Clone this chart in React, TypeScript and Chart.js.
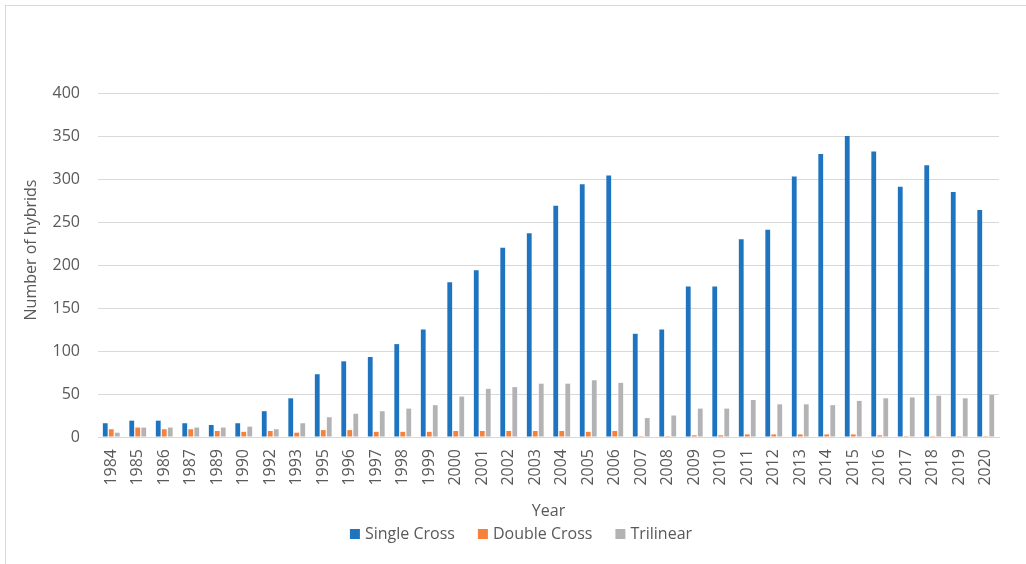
import React, { useEffect, useRef } from 'react';
import { Chart, registerables } from 'chart.js';

Chart.register(...registerables);

const years = ['1984', '1985', '1986', '1987', '1989', '1990', '1992', '1993', '1995', '1996', '1997', '1998', '1999', '2000', '2001', '2002', '2003', '2004', '2005', '2006', '2007', '2008', '2009', '2010', '2011', '2012', '2013', '2014', '2015', '2016', '2017', '2018', '2019', '2020'];
const singleCross = [16, 19, 19, 16, 14, 16, 30, 45, 73, 88, 93, 108, 125, 180, 194, 220, 237, 269, 294, 304, 120, 125, 175, 175, 230, 241, 303, 329, 350, 332, 291, 316, 285, 264];
const doubleCross = [9, 11, 9, 9, 7, 6, 7, 5, 8, 8, 6, 6, 6, 7, 7, 7, 7, 7, 6, 7, 1, 1, 2, 2, 3, 3, 3, 3, 3, 2, 1, 1, 1, 1];
const trilinear = [5, 11, 11, 11, 11, 12, 9, 16, 23, 27, 30, 33, 37, 47, 56, 58, 62, 62, 66, 63, 22, 25, 33, 33, 43, 38, 38, 37, 42, 45, 46, 48, 45, 49];

const seriesNames = ['Single Cross', 'Double Cross', 'Trilinear'];
const seriesColors = ['#1f74bf', '#f5813a', '#b3b3b6'];
const yTitle = 'Number of hybrids';
const xTitle = 'Year';
const yMin = 0;
const yMax = 400;
const yStep = 50;

const FONT = "'Open Sans', 'DejaVu Sans', sans-serif";
const TEXT_COLOR = '#595959';
const GRID_COLOR = '#d9d9d9';

const textPlugin = {
  id: 'textPlugin',
  afterDraw(chart: any) {
    const ctx = chart.ctx as CanvasRenderingContext2D;
    const area = chart.chartArea;
    ctx.save();
    ctx.fillStyle = TEXT_COLOR;
    ctx.font = `16px ${FONT}`;
    // Y title
    ctx.save();
    ctx.translate(31, 250);
    ctx.rotate(-Math.PI / 2);
    ctx.textAlign = 'center';
    ctx.textBaseline = 'middle';
    ctx.fillText(yTitle, 0, 0);
    ctx.restore();
    // X title
    ctx.textAlign = 'center';
    ctx.textBaseline = 'middle';
    ctx.fillText(xTitle, (area.left + area.right) / 2, 511);
    // Legend
    const box = 10;
    const gapText = 5;
    const gapItem = 23;
    const widths = seriesNames.map((n) => ctx.measureText(n).width);
    const total = widths.reduce((a, b) => a + b, 0) + seriesNames.length * (box + gapText) + gapItem * (seriesNames.length - 1);
    let x = 521 - total / 2;
    const cy = 534;
    ctx.textAlign = 'left';
    seriesNames.forEach((n, i) => {
      ctx.fillStyle = seriesColors[i];
      ctx.fillRect(x, cy - box / 2, box, box);
      ctx.fillStyle = TEXT_COLOR;
      ctx.fillText(n, x + box + gapText, cy);
      x += box + gapText + widths[i] + gapItem;
    });
    ctx.restore();
  },
};

export default function App() {
  const canvasRef = useRef<HTMLCanvasElement | null>(null);

  useEffect(() => {
    if (!canvasRef.current) return;
    const chart = new Chart(canvasRef.current, {
      type: 'bar',
      data: {
        labels: years,
        datasets: [
          { label: seriesNames[0], data: singleCross, backgroundColor: seriesColors[0], borderWidth: 0, categoryPercentage: 0.68, barPercentage: 0.8 },
          { label: seriesNames[1], data: doubleCross, backgroundColor: seriesColors[1], borderWidth: 0, categoryPercentage: 0.68, barPercentage: 0.8 },
          { label: seriesNames[2], data: trilinear, backgroundColor: seriesColors[2], borderWidth: 0, categoryPercentage: 0.68, barPercentage: 0.8 },
        ],
      },
      options: {
        responsive: false,
        animation: false,
        devicePixelRatio: 1,
        layout: { padding: { left: 0, right: 27, top: 93, bottom: 0 } },
        plugins: {
          legend: { display: false },
          tooltip: { enabled: false },
        },
        scales: {
          x: {
            grid: { display: false, drawTicks: false },
            border: { display: true, color: GRID_COLOR, width: 1 },
            ticks: {
              autoSkip: false,
              maxRotation: 90,
              minRotation: 90,
              padding: 12,
              color: TEXT_COLOR,
              font: { family: FONT, size: 16 },
            },
            afterFit: (s: any) => {
              s.height = 127;
            },
          },
          y: {
            min: yMin,
            max: yMax,
            ticks: {
              stepSize: yStep,
              padding: 18,
              color: TEXT_COLOR,
              font: { family: FONT, size: 16 },
            },
            grid: { color: GRID_COLOR, drawTicks: false, lineWidth: 1 },
            border: { display: false },
            afterFit: (s: any) => {
              s.width = 98;
            },
          },
        },
      },
      plugins: [textPlugin],
    });
    return () => chart.destroy();
  }, []);

  return (
    <div style={{ position: 'fixed', left: 0, top: 0, width: 1026, height: 564, overflow: 'hidden', background: '#fff' }}>
      <div style={{ position: 'absolute', left: 5, top: 5, width: 1100, height: 700, borderLeft: `1px solid ${GRID_COLOR}`, borderTop: `1px solid ${GRID_COLOR}`, pointerEvents: 'none' }} />
      <canvas ref={canvasRef} width={1026} height={564} style={{ position: 'absolute', left: 0, top: 0 }} />
    </div>
  );
}
